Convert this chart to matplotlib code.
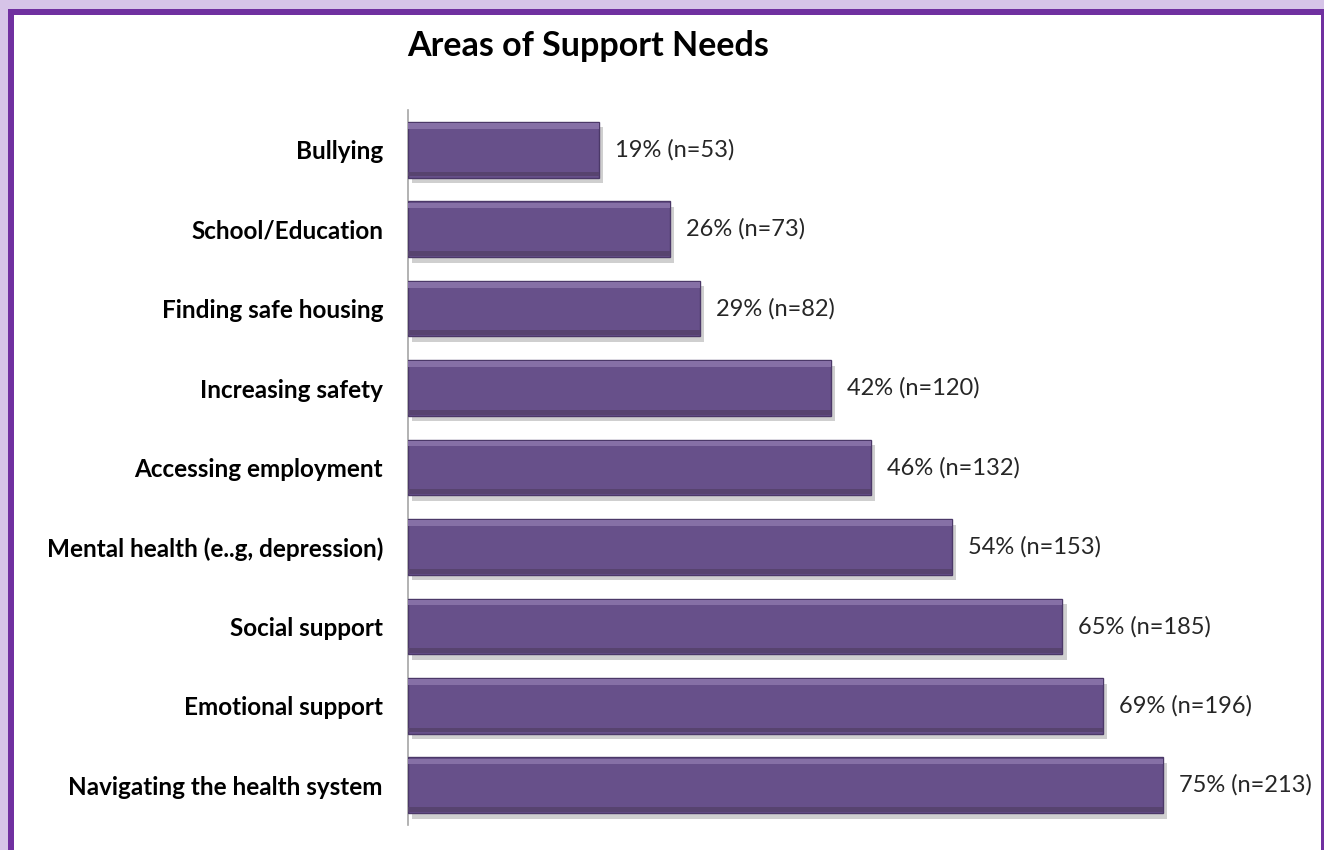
import matplotlib.pyplot as plt
import matplotlib.patheffects as pe
from matplotlib.patches import Rectangle

categories = ['Bullying', 'School/Education', 'Finding safe housing', 'Increasing safety',
              'Accessing employment', 'Mental health (e..g, depression)', 'Social support',
              'Emotional support', 'Navigating the health system']
percents = [19, 26, 29, 42, 46, 54, 65, 69, 75]
counts = [53, 73, 82, 120, 132, 153, 185, 196, 213]

plt.rcParams['font.family'] = ['Lato', 'DejaVu Sans']

W, H = 1324, 850
fig = plt.figure(figsize=(W / 100, H / 100), dpi=100)
fig.patch.set_facecolor('white')


def frame_rect(x0, y0, x1, y1, color, z):
    # rectangle given in pixels from the top-left corner
    fig.add_artist(Rectangle((x0 / W, 1 - y1 / H), (x1 - x0) / W, (y1 - y0) / H,
                             transform=fig.transFigure, facecolor=color, edgecolor='none', zorder=z))


# purple frame with soft lavender glow outside
frame_rect(0, 0, W, H, '#d6c4e8', -3)
frame_rect(8, 9, W, H, '#7030a0', -2)
frame_rect(14, 15, 1321, H, 'white', -1)

ax = fig.add_axes([408 / W, 25 / H, 906 / W, 715 / H])
ax.set_zorder(1)
ax.patch.set_alpha(0)
y = [len(categories) - 1 - i for i in range(len(categories))]

bars = ax.barh(y, percents, height=0.7, color='#67508a', edgecolor='#4b3868', linewidth=1.0,
               zorder=3)
for b in bars:
    b.set_path_effects([pe.SimplePatchShadow(offset=(3, -4), shadow_rgbFace='#a0a0a0', alpha=0.5),
                        pe.Normal()])
# bevel: lighter top edge, darker bottom edge
ax.barh([v + 0.3 for v in y], percents, height=0.07, color='#8670a6', linewidth=0, zorder=4)
ax.barh([v - 0.305 for v in y], percents, height=0.06, color='#57436f', linewidth=0, zorder=4)

for yi, p, n in zip(y, percents, counts):
    ax.text(p + 1.6, yi, f'{p}% (n={n})', va='center', ha='left', fontsize=17, color='#262626')

ax.set_yticks(y)
ax.set_yticklabels(categories, fontsize=17.5, fontweight='bold', color='black')
ax.tick_params(axis='y', length=0, pad=18)
ax.set_xlim(0, 90)
ax.set_ylim(-0.5, 8.5)
ax.set_xticks([])
for s in ['top', 'right', 'bottom']:
    ax.spines[s].set_visible(False)
ax.spines['left'].set_color('#a6a6a6')
ax.spines['left'].set_linewidth(1.2)

fig.text(588 / W, 1 - 46 / H, 'Areas of Support Needs', ha='center', va='center',
         fontsize=24.5, fontweight='bold', color='black')

fig.savefig('out.png', dpi=100)
